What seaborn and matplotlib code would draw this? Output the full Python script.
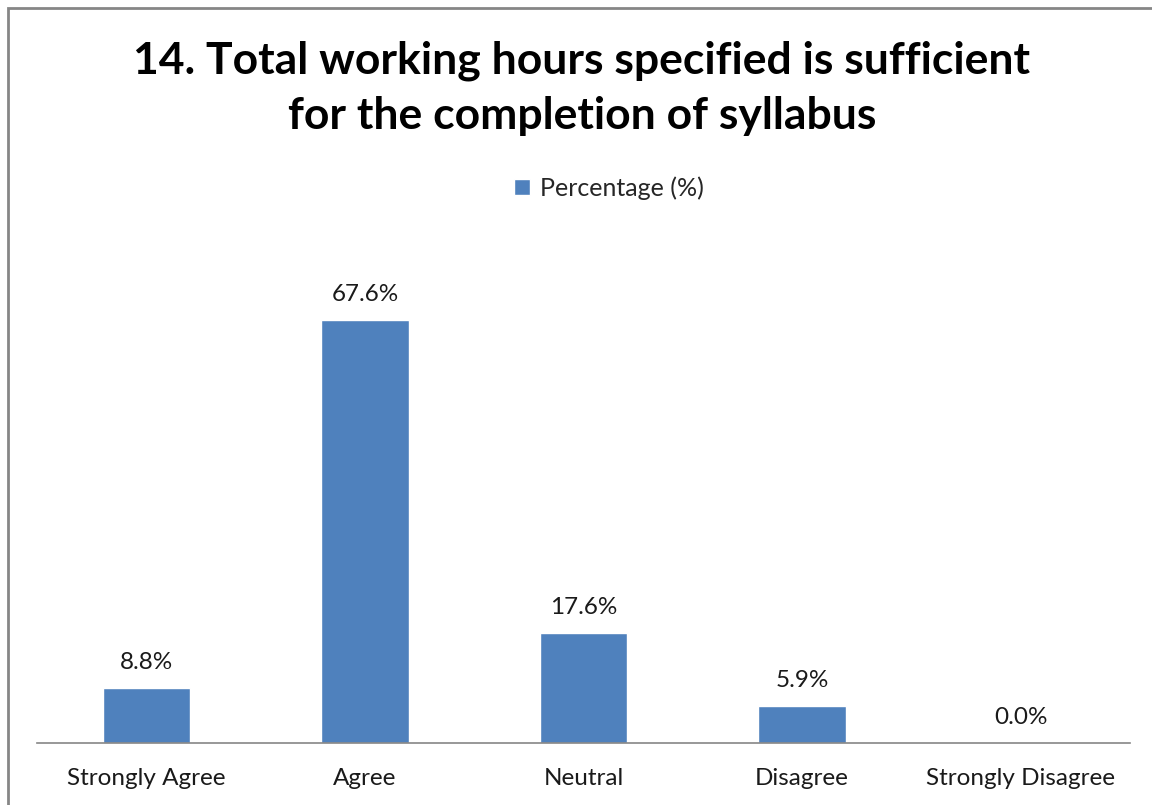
import matplotlib
matplotlib.use("Agg")
import matplotlib.pyplot as plt
import seaborn as sns
import pandas as pd
from matplotlib.patches import Rectangle

categories = ["Strongly Agree", "Agree", "Neutral", "Disagree", "Strongly Disagree"]
values = [8.8, 67.6, 17.6, 5.9, 0.0]
series_name = "Percentage (%)"
title = "14. Total working hours specified is sufficient\nfor the completion of syllabus"

sns.set_theme(style="white")
plt.rcParams['font.family'] = ['Lato', 'DejaVu Sans']

fig = plt.figure(figsize=(11.52, 8.05), dpi=100)
ax = fig.add_axes([37/1152, 1 - 743/805, (1130-37)/1152, (743-242)/805])

df = pd.DataFrame({"cat": categories, "val": values})
sns.barplot(data=df, x="cat", y="val", color="#4F81BD", width=0.4, saturation=1,
            ax=ax, label=series_name)

ax.set_ylim(0, 80)
ax.set_xlim(-0.5, 4.5)
ax.set_xlabel("")
ax.set_ylabel("")
ax.set_yticks([])
for s in ["top", "right", "left"]:
    ax.spines[s].set_visible(False)
ax.spines["bottom"].set_color("#868686")
ax.spines["bottom"].set_linewidth(1.2)
ax.tick_params(axis="x", length=0, pad=18, labelsize=17.5, colors="#1a1a1a")

for i, v in enumerate(values):
    ax.text(i, v + 2.4, f"{v:.1f}%", ha="center", va="bottom", fontsize=17.5, color="#1a1a1a")

fig.text(0.505, 1 - 88/805, title, ha="center", va="center", fontsize=32,
         fontweight="bold", color="black", linespacing=1.45)

leg = ax.legend(loc="center", bbox_to_anchor=(0.523, (743-188)/(743-242)), frameon=False,
                fontsize=18, handlelength=0.65, handleheight=0.65, handletextpad=0.4)

fig.patches.append(Rectangle((8/1152, -0.1), 1.2, 1 - 8/805 + 0.1, transform=fig.transFigure,
                             fill=False, edgecolor="#868686", linewidth=2))

fig.savefig("out.png", dpi=100)
